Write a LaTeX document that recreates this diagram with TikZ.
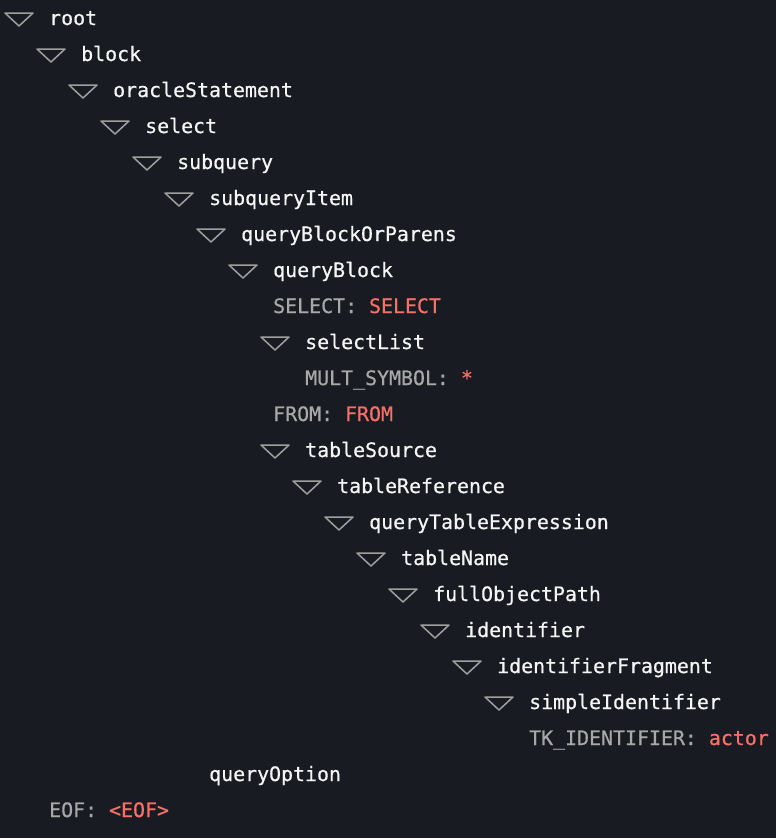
\documentclass[tikz,border=0pt]{standalone}
\usepackage{fontspec}
\setmonofont[FakeBold=0.6]{DejaVu Sans Mono}
\definecolor{bg}{HTML}{181B21}
\definecolor{txt}{HTML}{F5F5F5}
\definecolor{lbl}{HTML}{A8A8A8}
\definecolor{val}{HTML}{F87068}
\definecolor{tric}{HTML}{A0A0A0}
\newcommand\trimark[1]{\draw[tri] ([xshift=-44pt,yshift=12pt]#1.base west) -- ++(28pt,0) -- ++(-14pt,-13pt) -- cycle;}
\newcommand\lv[2]{{\color{lbl}#1:} {\color{val}#2}}
\begin{document}
\begin{tikzpicture}[x=1pt,y=-1pt,
  tn/.style={anchor=base west,inner sep=0pt,text=txt,font=\fontsize{19.9pt}{22pt}\ttfamily},
  tri/.style={draw=tric,line width=1.5pt,line join=round}]
\fill[bg] (0,0) rectangle (776,838);
\useasboundingbox (0,0) rectangle (776,838);
\node[tn] (root) at (49,25) {root};
\node[tn] (block) at (81,61) {block};
\node[tn] (oracle) at (113,97) {oracleStatement};
\node[tn] (select) at (145,133) {select};
\node[tn] (subquery) at (177,169) {subquery};
\node[tn] (subqitem) at (209,205) {subqueryItem};
\node[tn] (qbop) at (241,241) {queryBlockOrParens};
\node[tn] (qb) at (273,277) {queryBlock};
\node[tn] (selkw) at (273,313) {\lv{SELECT}{SELECT}};
\node[tn] (sellist) at (305,349) {selectList};
\node[tn] (mult) at (305,385) {\lv{MULT\_SYMBOL}{*}};
\node[tn] (from) at (273,421) {\lv{FROM}{FROM}};
\node[tn] (tsrc) at (305,457) {tableSource};
\node[tn] (tref) at (337,493) {tableReference};
\node[tn] (qte) at (369,529) {queryTableExpression};
\node[tn] (tname) at (401,565) {tableName};
\node[tn] (fop) at (433,601) {fullObjectPath};
\node[tn] (ident) at (465,637) {identifier};
\node[tn] (ifrag) at (497,673) {identifierFragment};
\node[tn] (simple) at (529,709) {simpleIdentifier};
\node[tn] (tkid) at (529,745) {\lv{TK\_IDENTIFIER}{actor}};
\node[tn] (qopt) at (209,781) {queryOption};
\node[tn] (eof) at (49,817) {\lv{EOF}{<EOF>}};
\foreach \n in {root,block,oracle,select,subquery,subqitem,qbop,qb,sellist,tsrc,tref,qte,tname,fop,ident,ifrag,simple}{\trimark{\n}}
\end{tikzpicture}
\end{document}
